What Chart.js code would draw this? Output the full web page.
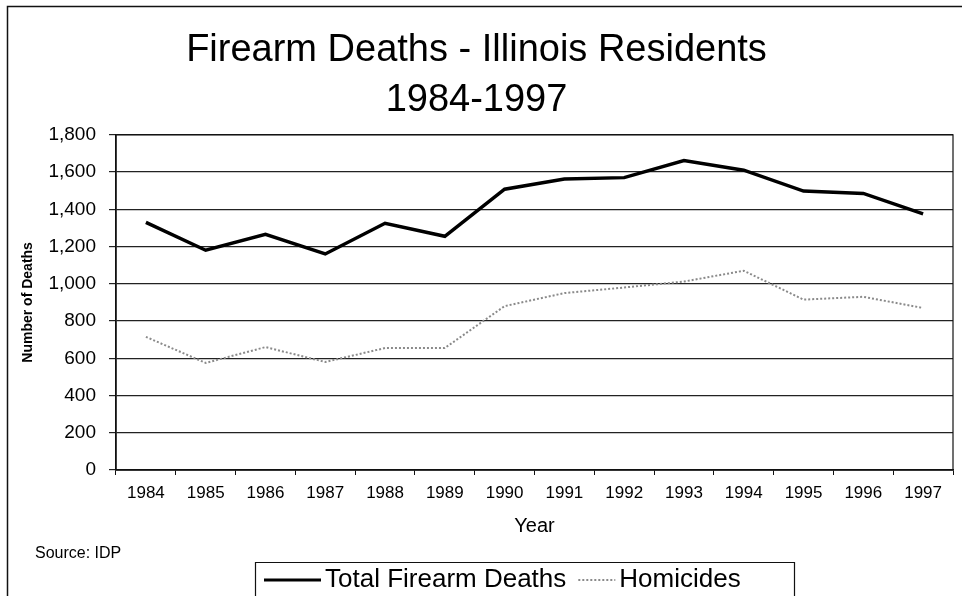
<!DOCTYPE html>
<html>
<head>
<meta charset="utf-8">
<script src="https://cdn.jsdelivr.net/npm/chart.js@4.4.1/dist/chart.umd.min.js"></script>
<style>
  html, body { margin: 0; padding: 0; background: #fff; }
  #wrap { width: 962px; height: 596px; position: relative; }
</style>
</head>
<body>
<div id="wrap"><canvas id="c" width="962" height="596"></canvas></div>
<script>
const years = ['1984','1985','1986','1987','1988','1989','1990','1991','1992','1993','1994','1995','1996','1997'];
const totalDeaths = [1330, 1180, 1265, 1160, 1325, 1255, 1508, 1562, 1570, 1662, 1610, 1498, 1485, 1375];
const homicides = [715, 575, 660, 580, 655, 655, 880, 950, 980, 1012, 1070, 915, 930, 870];
const yTicks = [0, 200, 400, 600, 800, 1000, 1200, 1400, 1600, 1800];
const titleLines = ['Firearm Deaths - Illinois Residents', '1984-1997'];
const seriesNames = ['Total Firearm Deaths', 'Homicides'];
const xTitle = 'Year';
const yTitle = 'Number of Deaths';
const sourceNote = 'Source: IDP';

const FONT = "'Liberation Sans', Arial, sans-serif";

const framePlugin = {
  id: 'frame',
  beforeDraw(chart) {
    const ctx = chart.ctx;
    ctx.save();
    ctx.fillStyle = '#fff';
    ctx.fillRect(0, 0, chart.width, chart.height);
    ctx.strokeStyle = '#111';
    ctx.lineWidth = 1.5;
    ctx.beginPath();
    ctx.moveTo(7.5, chart.height);
    ctx.lineTo(7.5, 6.5);
    ctx.lineTo(chart.width, 6.5);
    ctx.stroke();
    ctx.restore();
  },
  afterDraw(chart) {
    const ctx = chart.ctx;
    const a = chart.chartArea;
    ctx.save();
    ctx.strokeStyle = '#111';
    ctx.lineWidth = 1.2;
    ctx.strokeRect(a.left, a.top, a.right - a.left, a.bottom - a.top);
    // source note
    ctx.fillStyle = '#000';
    ctx.font = '16px ' + FONT;
    ctx.textBaseline = 'middle';
    ctx.textAlign = 'left';
    ctx.fillText(sourceNote, 35, 554);
    // legend box
    const ds = chart.data.datasets;
    const boxL = 255, boxT = 562, boxR = 794;
    ctx.lineWidth = 1.2;
    ctx.beginPath();
    ctx.moveTo(boxL + 0.5, chart.height);
    ctx.lineTo(boxL + 0.5, boxT + 0.5);
    ctx.lineTo(boxR + 0.5, boxT + 0.5);
    ctx.lineTo(boxR + 0.5, chart.height);
    ctx.stroke();
    const ly = 580;
    ctx.font = '26px ' + FONT;
    let x = 264;
    ds.forEach((d, i) => {
      const sampleW = i === 0 ? 57 : 37;
      ctx.save();
      ctx.strokeStyle = d.borderColor;
      ctx.lineWidth = i === 0 ? 3 : 2;
      ctx.setLineDash(d.borderDash || []);
      ctx.beginPath();
      ctx.moveTo(x, ly);
      ctx.lineTo(x + sampleW, ly);
      ctx.stroke();
      ctx.restore();
      x += sampleW + 4;
      ctx.fillStyle = '#000';
      ctx.fillText(d.label, x, ly);
      x += ctx.measureText(d.label).width + 12;
    });
    ctx.restore();
  }
};

new Chart(document.getElementById('c'), {
  type: 'line',
  data: {
    labels: years,
    datasets: [
      {
        label: seriesNames[0],
        data: totalDeaths,
        borderColor: '#000',
        borderWidth: 3.5,
        pointRadius: 0,
        tension: 0,
        fill: false
      },
      {
        label: seriesNames[1],
        data: homicides,
        borderColor: '#8a8a8a',
        borderWidth: 2,
        borderDash: [2, 2],
        pointRadius: 0,
        tension: 0,
        fill: false
      }
    ]
  },
  options: {
    responsive: false,
    animation: false,
    devicePixelRatio: 1,
    layout: { padding: { left: 0, right: 9, top: 0, bottom: 56 } },
    plugins: {
      legend: { display: false },
      tooltip: { enabled: false },
      title: {
        display: true,
        text: titleLines,
        color: '#000',
        font: { family: FONT, size: 38, weight: 'normal', lineHeight: 1.3 },
        padding: { top: 26, bottom: 10 }
      }
    },
    scales: {
      x: {
        type: 'category',
        offset: true,
        grid: { display: true, offset: true, drawOnChartArea: false, drawTicks: true, tickLength: 5, color: '#111', lineWidth: 1 },
        border: { display: true, color: '#111', width: 1.5 },
        ticks: { color: '#000', font: { family: FONT, size: 17 }, padding: 8, maxRotation: 0, autoSkip: false },
        title: { display: true, text: xTitle, color: '#000', font: { family: FONT, size: 20 }, padding: { top: 0, bottom: 2 } },
        afterFit(scale) { scale.height = 70; }
      },
      y: {
        min: 0,
        max: 1800,
        afterBuildTicks(scale) { scale.ticks = yTicks.map(v => ({ value: v })); },
        grid: { color: '#222', lineWidth: 1.2, tickLength: 7, drawTicks: true },
        border: { display: true, color: '#111', width: 1.5 },
        ticks: {
          color: '#000',
          font: { family: FONT, size: 19 },
          padding: 13,
          callback: v => Number(v).toLocaleString('en-US')
        },
        title: {
          display: true,
          text: yTitle,
          color: '#000',
          font: { family: "'Liberation Sans Narrow', 'Liberation Sans', Arial, sans-serif", size: 14, weight: 'bold' },
          padding: { top: 20, bottom: 0 }
        },
        afterFit(scale) { scale.width = 116; }
      }
    }
  },
  plugins: [framePlugin]
});
</script>
</body>
</html>
